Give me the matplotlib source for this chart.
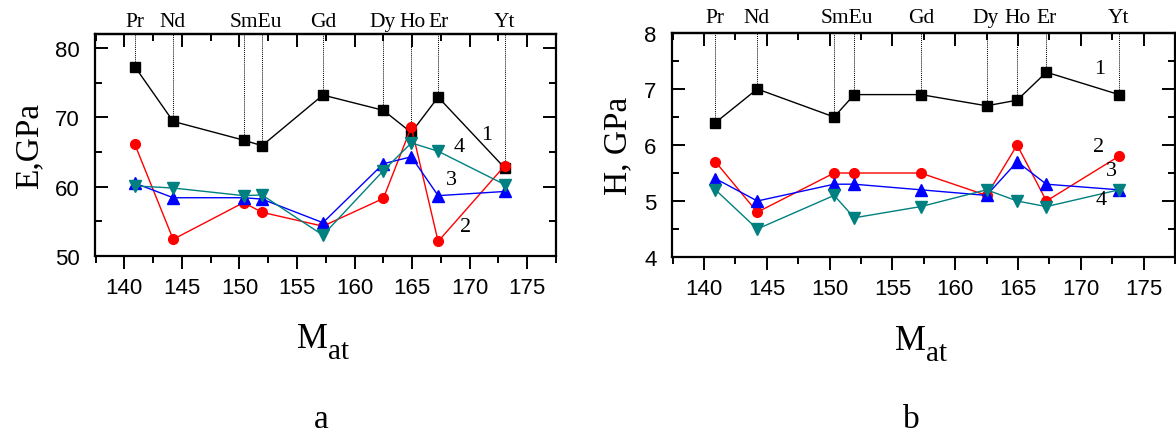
import matplotlib
matplotlib.use('Agg')
import matplotlib.pyplot as plt
import matplotlib.transforms as mtransforms
from matplotlib.ticker import MultipleLocator

plt.rcParams['font.family'] = 'Liberation Sans'

# atomic mass of each element
mass = [140.91, 144.24, 150.36, 151.96, 157.25, 162.50, 164.93, 167.26, 173.04]

# labels along the top of each panel
elem_names = ['Pr', 'Nd', 'SmEu', 'Gd', 'Dy', 'Ho', 'Er', 'Yt']
elem_pos = [140.9, 144.2, 151.4, 157.3, 162.45, 165.0, 167.3, 173.0]

# panel a: Young's modulus E, GPa
E1 = [77.3, 69.4, 66.7, 65.9, 73.2, 71.0, 67.8, 72.9, 62.7]
E2 = [66.1, 52.4, 57.7, 56.3, 54.3, 58.3, 68.6, 52.1, 63.0]
E3 = [60.5, 58.4, 58.4, 58.2, 54.8, 63.3, 64.3, 58.7, 59.3]
E4 = [60.1, 59.8, 58.7, 58.8, 53.0, 62.3, 66.3, 65.1, 60.3]

# panel b: hardness H, GPa
H1 = [6.4, 7.0, 6.5, 6.9, 6.9, 6.7, 6.8, 7.3, 6.9]
H2 = [5.7, 4.8, 5.5, 5.5, 5.5, 5.1, 6.0, 5.0, 5.8]
H3 = [5.4, 5.0, 5.3, 5.3, 5.2, 5.1, 5.7, 5.3, 5.2]
H4 = [5.2, 4.5, 5.1, 4.7, 4.9, 5.2, 5.0, 4.9, 5.2]

# curve numbers written next to the lines
curve_names = ['1', '2', '3', '4']
E_lab_x = [171.5, 169.6, 168.45, 169.1]
E_lab_y = [67.5, 54.3, 61.0, 65.75]
H_lab_x = [171.5, 171.45, 172.45, 171.65]
H_lab_y = [7.36, 5.97, 5.55, 5.02]

styles = [('k', 's', 6.5), ('#ff0000', 'o', 7), ('#0000ff', '^', 8), ('#008080', 'v', 8)]

fig = plt.figure(figsize=(11.76, 4.35), dpi=100)
axa = fig.add_axes([95/1176, 1-257/435, 461/1176, 222/435])
axb = fig.add_axes([672/1176, 1-258/435, 503/1176, 224/435])


def draw_panel(ax, series, ylim, ymajor, yminor, ylabel, lab_x, lab_y, lab_top):
    for ys, (c, m, ms) in zip(series, styles):
        ax.plot(mass, ys, color=c, marker=m, ms=ms, lw=1)
    # dotted drop lines from curve 1 to the top frame
    ax.vlines(mass, series[0], ylim[1], colors='k', linestyles=(0, (1, 1)), lw=0.7, zorder=0)
    for name, x, y in zip(curve_names, lab_x, lab_y):
        ax.text(x, y, name, family='Liberation Serif', fontsize=16, ha='center', va='center')
    trans = mtransforms.blended_transform_factory(ax.transData, ax.transAxes)
    for name, x in zip(elem_names, elem_pos):
        ax.text(x, lab_top, name, transform=trans, family='Liberation Serif',
                fontsize=15.5, ha='center', va='baseline')

    ax.set_xlim(137.45, 177.5)
    ax.set_ylim(*ylim)
    ax.xaxis.set_major_locator(MultipleLocator(5))
    ax.xaxis.set_minor_locator(MultipleLocator(2.5))
    ax.yaxis.set_major_locator(MultipleLocator(ymajor))
    ax.yaxis.set_minor_locator(MultipleLocator(yminor))
    ax.tick_params(axis='x', which='both', direction='out', top=False, labelsize=16, width=1.4, pad=6)
    ax.tick_params(axis='x', which='major', length=9)
    ax.tick_params(axis='x', which='minor', length=5)
    ax.tick_params(axis='y', which='both', direction='in', right=True, labelsize=16, width=1.4, pad=11)
    ax.tick_params(axis='y', which='major', length=9.5)
    ax.tick_params(axis='y', which='minor', length=5)
    top = ax.secondary_xaxis('top')
    top.xaxis.set_major_locator(MultipleLocator(5))
    top.xaxis.set_minor_locator(MultipleLocator(2.5))
    top.tick_params(which='both', direction='in', labeltop=False, width=1.4)
    top.tick_params(which='major', length=9)
    top.tick_params(which='minor', length=5)
    top.spines['top'].set_linewidth(1.6)
    for s in ax.spines.values():
        s.set_linewidth(1.6)
    ax.set_ylabel(ylabel, family='Liberation Serif', fontsize=24, labelpad=8)


draw_panel(axa, [E1, E2, E3, E4], (50, 82), 10, 5, 'E,GPa', E_lab_x, E_lab_y, 1.035)
draw_panel(axb, [H1, H2, H3, H4], (4, 8), 1, 0.5, 'H, GPa', H_lab_x, H_lab_y, 1.05)

# x axis titles: M with a large subscript "at"
for xc, yb in [(328, 348), (926, 350)]:
    fig.text(xc/1176, 1-yb/435, 'M', family='Liberation Serif', fontsize=25, ha='right', va='baseline')
    fig.text(xc/1176, 1-(yb+11)/435, 'at', family='Liberation Serif', fontsize=21, ha='left', va='baseline')

fig.text(321/1176, 1-420/435, 'a', family='Liberation Serif', fontsize=24, ha='center', va='center')
fig.text(911/1176, 1-420/435, 'b', family='Liberation Serif', fontsize=24, ha='center', va='center')

fig.savefig('out.png', dpi=100)
